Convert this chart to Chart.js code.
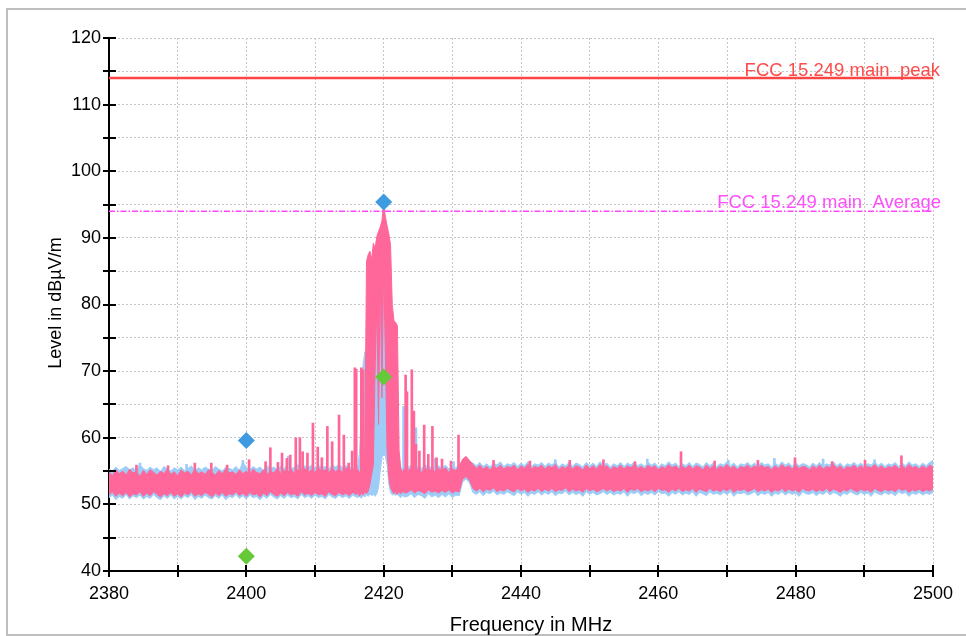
<!DOCTYPE html>
<html lang="en">
<head>
<meta charset="UTF-8">
<title>FCC 15.249 scan</title>
<script src="https://cdn.jsdelivr.net/npm/chart.js"></script>
<style>
  html, body { margin: 0; padding: 0; background: #fff; }
  #wrap { width: 966px; height: 636px; position: relative; }
</style>
</head>
<body>
<div id="wrap"><canvas id="scan"></canvas></div>
<script>
// sample frequencies (MHz) of the trace envelopes
const freqs = [
  2380,2380.5,2381,2381.5,2382,2382.5,2383,2383.5,2384,2384.5,
  2385,2385.5,2386,2386.5,2387,2387.5,2388,2388.5,2389,2389.5,
  2390,2390.5,2391,2391.5,2392,2392.5,2393,2393.5,2394,2394.5,
  2395,2395.5,2396,2396.5,2397,2397.5,2398,2398.5,2399,2399.5,
  2400,2400.5,2401,2401.5,2402,2402.5,2403,2403.5,2404,2404.5,
  2405,2405.5,2406,2406.5,2407,2407.5,2408,2408.5,2409,2409.5,
  2410,2410.5,2411,2411.5,2412,2412.5,2413,2413.5,2414,2414.5,
  2415,2415.5,2416,
  2416.25,2416.5,2416.75,2417,2417.25,2417.5,2417.75,2418,2418.25,2418.5,
  2418.75,2419,2419.25,2419.5,2419.75,2420,2420.25,2420.5,2420.75,2421,
  2421.25,2421.5,2421.75,2422,2422.25,2422.5,2422.75,2423,
  2423.5,2424,2424.5,2425,2425.5,2426,2426.5,2427,2427.5,2428,
  2428.5,2429,2429.5,2430,2430.5,2431,2431.5,2432,2432.5,2433,
  2433.5,2434,2434.5,2435,2435.5,2436,2436.5,2437,2437.5,2438,
  2438.5,2439,2439.5,2440,2440.5,2441,2441.5,2442,2442.5,2443,
  2443.5,2444,2444.5,2445,2445.5,2446,2446.5,2447,2447.5,2448,
  2448.5,2449,2449.5,2450,2450.5,2451,2451.5,2452,2452.5,2453,
  2453.5,2454,2454.5,2455,2455.5,2456,2456.5,2457,2457.5,2458,
  2458.5,2459,2459.5,2460,2460.5,2461,2461.5,2462,2462.5,2463,
  2463.5,2464,2464.5,2465,2465.5,2466,2466.5,2467,2467.5,2468,
  2468.5,2469,2469.5,2470,2470.5,2471,2471.5,2472,2472.5,2473,
  2473.5,2474,2474.5,2475,2475.5,2476,2476.5,2477,2477.5,2478,
  2478.5,2479,2479.5,2480,2480.5,2481,2481.5,2482,2482.5,2483,
  2483.5,2484,2484.5,2485,2485.5,2486,2486.5,2487,2487.5,2488,
  2488.5,2489,2489.5,2490,2490.5,2491,2491.5,2492,2492.5,2493,
  2493.5,2494,2494.5,2495,2495.5,2496,2496.5,2497,2497.5,2498,
  2498.5,2499,2499.5,2500
];

// pink trace (peak detector) - top and bottom of the noise band, dBµV/m
const pinkUpper = [
  54.9,54.3,55.2,54.6,55.0,54.4,55.3,54.7,54.9,54.2,
  55.1,54.5,55.2,54.8,54.4,55.0,54.6,55.3,54.5,54.9,
  54.3,55.2,54.7,55.0,54.4,55.3,54.6,54.9,54.5,55.2,
  54.8,54.4,55.1,54.6,55.3,54.7,54.9,54.5,55.2,54.6,
  55.0,54.4,55.3,54.8,54.6,55.2,54.5,55.0,54.7,55.4,
  54.6,55.1,54.8,55.3,54.6,55.2,54.9,55.4,54.7,55.2,
  54.8,55.5,54.9,55.2,54.7,55.4,54.9,55.3,54.8,55.5,
  55.0,55.3,54.9,
  55.2,54.7,55.4,55.0,58.0,86.5,87.5,88.0,86.8,89.2,
  88.4,90.2,91.0,91.6,92.6,95.0,93.2,91.8,90.6,89.0,
  80.0,77.6,77.3,76.8,58.0,55.3,54.8,55.4,
  55.0,55.4,54.9,55.3,54.8,55.5,55.0,55.3,54.9,55.4,
  55.0,55.5,54.8,55.3,55.1,55.6,56.8,57.2,56.6,56.0,
  55.4,55.9,55.3,55.7,55.2,55.8,55.4,55.9,55.3,55.7,
  55.5,55.9,55.2,55.8,55.4,56.0,55.3,55.7,55.5,55.9,
  55.3,55.8,55.5,56.0,55.2,55.7,55.4,55.9,55.3,55.8,
  55.6,55.2,55.9,55.4,55.8,55.3,56.0,55.5,55.8,55.2,
  55.7,55.4,55.9,55.3,55.8,55.5,56.0,55.4,55.7,55.3,
  55.9,55.5,55.8,55.2,55.7,55.4,56.0,55.5,55.8,55.3,
  55.7,55.4,55.9,55.3,55.8,55.6,55.2,55.9,55.4,55.8,
  55.3,55.7,55.5,56.0,55.4,55.8,55.2,55.7,55.5,55.9,
  55.4,55.8,55.3,55.9,55.5,55.7,55.2,55.8,55.4,56.0,
  55.5,55.8,55.3,55.9,55.4,55.7,55.6,55.2,55.8,55.4,
  55.9,55.3,55.7,55.5,56.0,55.4,55.8,55.2,55.7,55.5,
  55.9,55.4,55.8,55.3,55.7,55.5,56.0,55.4,55.8,55.3,
  55.7,55.5,55.9,55.3,55.8,55.4,56.0,55.5,55.7,55.3,
  55.8,55.4,55.9,55.6
];
const pinkLower = [
  51.4,51.9,51.2,51.7,51.3,51.8,51.1,51.6,51.4,51.9,
  51.2,51.7,51.3,51.9,51.5,51.1,51.6,51.3,51.8,51.2,
  51.6,51.1,51.7,51.4,51.9,51.2,51.6,51.3,51.8,51.5,
  51.1,51.7,51.3,51.8,51.2,51.6,51.4,51.9,51.3,51.7,
  51.2,51.8,51.4,51.6,51.1,51.7,51.3,51.9,51.5,51.2,
  51.7,51.3,51.8,51.4,51.6,51.2,51.9,51.4,51.7,51.3,
  51.8,51.4,51.6,51.2,51.9,51.5,51.3,51.8,51.4,51.7,
  51.3,51.8,51.5,
  51.7,51.2,51.8,51.4,51.9,51.6,52.0,53.0,54.5,56.0,
  70.0,80.0,62.0,84.0,66.0,86.0,72.0,58.0,54.0,52.5,
  52.0,51.6,51.9,51.5,51.9,51.6,52.0,51.7,
  51.8,52.2,51.7,52.1,51.9,51.6,52.2,51.8,52.0,51.7,
  52.1,51.8,52.2,51.7,52.0,51.9,53.8,54.2,53.6,52.4,
  52.0,52.4,51.9,52.3,52.1,52.5,51.9,52.2,52.0,52.4,
  52.1,51.9,52.4,52.0,52.3,51.8,52.2,52.0,52.4,51.9,
  52.3,52.0,52.4,51.9,52.2,52.1,52.5,51.9,52.3,52.0,
  52.2,51.8,52.4,52.0,52.3,51.9,52.1,52.4,52.0,52.3,
  51.9,52.2,52.0,52.4,51.8,52.3,52.1,52.4,51.9,52.2,
  52.0,52.3,51.9,52.4,52.1,52.2,51.8,52.3,52.0,52.4,
  51.9,52.2,52.0,52.4,51.8,52.3,52.1,51.9,52.4,52.0,
  52.2,51.9,52.3,52.0,52.4,51.8,52.2,52.1,52.3,51.9,
  52.1,52.4,51.9,52.2,52.0,52.3,51.8,52.2,52.0,52.4,
  51.9,52.3,52.0,52.2,51.8,52.4,52.1,52.0,52.3,51.9,
  52.2,52.0,52.4,51.9,52.3,52.1,51.8,52.2,52.0,52.4,
  52.1,51.9,52.3,52.0,52.2,51.8,52.4,52.1,51.9,52.3,
  52.0,52.2,51.9,52.4,52.1,52.3,51.8,52.2,52.0,52.3,
  51.9,52.2,52.0,52.3
];

// light blue trace - top and bottom of the noise band
const blueUpper = [
  55.3,55.0,55.6,55.1,55.4,55.7,55.2,55.5,55.0,56.0,
  55.4,55.1,55.6,55.2,55.5,54.9,55.7,55.3,55.0,55.5,
  55.2,55.6,55.1,55.4,55.8,55.0,55.5,55.2,55.6,55.3,
  55.1,55.7,55.3,55.0,55.6,55.4,55.2,55.7,55.1,56.4,
  55.5,55.2,55.7,55.3,55.6,55.1,55.8,55.4,55.6,55.2,
  55.7,55.4,55.9,55.3,55.6,56.0,55.4,55.8,55.5,55.9,
  55.4,55.8,55.5,55.7,55.3,55.9,55.6,56.0,55.5,55.8,
  55.6,55.3,55.8,
  55.6,58.0,64.0,71.0,72.9,72.4,76.0,80.5,84.0,85.6,
  86.4,86.7,86.1,86.6,85.9,86.4,85.6,84.2,83.2,81.5,
  77.0,75.2,71.0,62.0,56.0,55.6,55.2,55.8,
  55.5,55.9,55.3,55.8,55.4,56.0,55.5,55.7,55.3,55.8,
  55.4,55.9,55.3,55.7,55.5,56.0,56.6,57.0,56.4,56.2,
  55.8,56.3,55.7,56.1,55.6,56.2,55.9,56.4,55.7,56.1,
  55.9,56.3,55.7,56.2,55.8,56.4,55.7,56.1,55.9,56.3,
  55.7,56.2,55.9,56.4,55.6,56.1,55.8,56.3,55.7,56.2,
  56.0,55.6,56.3,55.8,56.2,55.7,56.4,55.9,56.2,55.6,
  56.1,55.8,56.3,55.7,56.2,55.9,56.4,55.8,56.1,55.7,
  56.3,55.9,56.2,55.6,56.1,55.8,56.4,55.9,56.2,55.7,
  56.1,55.8,56.3,55.7,56.2,56.0,55.6,56.3,55.8,56.2,
  55.7,56.1,55.9,56.4,55.8,56.2,55.6,56.1,55.9,56.3,
  55.8,56.2,55.7,56.3,55.9,56.1,55.6,56.2,55.8,56.4,
  55.9,56.2,55.7,56.3,55.8,56.1,56.0,55.6,56.2,55.8,
  56.3,55.7,56.1,55.9,56.4,55.8,56.2,55.6,56.1,55.9,
  56.3,55.8,56.2,55.7,56.1,55.9,56.4,55.8,56.2,55.7,
  56.1,55.9,56.3,55.7,56.2,55.8,56.4,55.9,56.1,55.7,
  56.2,55.8,56.3,56.5
];
const blueLower = [
  51.0,51.4,50.7,51.2,50.9,51.5,50.8,51.3,51.0,51.4,
  50.8,51.2,50.9,51.5,51.0,50.7,51.3,50.9,51.4,50.8,
  51.2,50.8,51.3,51.0,51.5,50.7,51.2,50.9,51.4,51.0,
  50.8,51.3,50.9,51.4,50.7,51.2,51.0,51.5,50.9,51.3,
  50.8,51.4,51.0,51.2,50.7,51.3,50.9,51.5,51.1,50.8,
  51.3,50.9,51.4,51.0,51.2,50.8,51.5,51.0,51.3,50.9,
  51.4,51.0,51.2,50.8,51.5,51.1,50.9,51.4,51.0,51.3,
  50.9,51.4,51.1,
  51.0,51.3,50.9,51.4,51.1,51.5,51.2,51.6,51.3,51.5,
  51.2,51.6,52.5,55.0,57.0,57.5,57.2,56.0,53.0,51.8,
  51.4,51.6,51.3,51.6,51.2,51.0,51.4,51.1,
  51.2,51.6,51.0,51.5,51.3,50.9,51.6,51.1,51.4,51.0,
  51.5,51.1,51.6,51.0,51.4,51.3,53.4,53.8,53.2,51.8,
  51.5,51.9,51.3,51.8,51.6,52.0,51.4,51.7,51.5,51.9,
  51.6,51.3,51.9,51.5,51.8,51.2,51.7,51.5,51.9,51.4,
  51.8,51.5,51.9,51.3,51.7,51.6,52.0,51.4,51.8,51.5,
  51.7,51.2,51.9,51.5,51.8,51.4,51.6,51.9,51.5,51.8,
  51.4,51.7,51.5,51.9,51.2,51.8,51.6,51.9,51.3,51.7,
  51.5,51.8,51.4,51.9,51.6,51.7,51.2,51.8,51.5,51.9,
  51.4,51.7,51.5,51.9,51.2,51.8,51.6,51.3,51.9,51.5,
  51.7,51.4,51.8,51.5,51.9,51.2,51.7,51.6,51.8,51.4,
  51.6,51.9,51.3,51.7,51.5,51.8,51.2,51.7,51.5,51.9,
  51.4,51.8,51.5,51.7,51.2,51.9,51.6,51.5,51.8,51.3,
  51.7,51.5,51.9,51.4,51.8,51.6,51.2,51.7,51.5,51.9,
  51.6,51.4,51.8,51.5,51.7,51.2,51.9,51.6,51.4,51.8,
  51.5,51.7,51.3,51.9,51.6,51.8,51.2,51.7,51.5,51.8,
  51.4,51.7,51.5,51.8
];

// narrow spurs standing out of the noise band
const pinkSpikeFreq = [2384.0, 2388.6, 2392.5, 2394.9, 2397.2, 2400.4, 2402.8, 2403.5, 2404.6, 2405.2,
  2405.9, 2406.4, 2407.2, 2407.8, 2408.2, 2408.9, 2409.7, 2410.4, 2411.0, 2411.8,
  2412.5, 2413.5, 2414.2, 2414.9, 2415.4, 2415.8, 2416.0, 2416.75, 2417.0, 2423.2,
  2423.4, 2424.1, 2424.4, 2424.7, 2425.2, 2425.9, 2426.5, 2427.1, 2427.7, 2428.5,
  2429.8, 2430.9, 2436.0, 2441.3, 2447.1, 2452.0, 2456.6, 2463.3, 2468.2, 2474.5,
  2479.9, 2485.3, 2490.1, 2495.4];
const pinkSpikeTop = [55.9, 55.8, 56.2, 56.2, 55.9, 56.7, 56.4, 58.5, 56.3, 57.7,
  56.9, 57.4, 60.0, 60.0, 57.9, 57.7, 62.2, 58.6, 57.0, 61.7,
  59.4, 63.4, 60.4, 56.2, 58.0, 70.5, 70.3, 70.5, 70.2, 69.4,
  66.9, 70.2, 64.0, 59.0, 58.0, 61.9, 57.5, 61.7, 57.0, 56.8,
  56.5, 60.4, 56.6, 56.5, 56.6, 56.7, 56.4, 57.9, 56.5, 56.6,
  57.0, 56.4, 56.6, 57.3];
const blueSpikeFreq = [2384.5, 2391.3, 2399.5, 2406.1, 2422.9, 2424.7, 2427.5, 2430.2, 2445.0, 2458.4,
  2470.2, 2476.9, 2484.0, 2491.5, 2500.0];
const blueSpikeTop = [56.2, 56.0, 56.6, 57.2, 64.7, 61.5, 56.9, 56.4, 56.7, 56.8,
  56.6, 56.9, 56.8, 56.7, 56.6];
const spikeBase = 53;

// final measurement markers
const markerFreq = [2400, 2420];
const peakMarker = [59.6, 95.4];
const avgMarker = [42.2, 69.1];

// limit lines
const limitPeak = 114;
const limitAvg = 94;
const limitPeakLabel = 'FCC 15.249 main  peak';
const limitAvgLabel = 'FCC 15.249 main  Average';

const FONT = '"Liberation Sans", Arial, Helvetica, sans-serif';
const PINK = '#ff6699';
const BLUE = '#9dcdf7';

const pts = vals => freqs.map((f, i) => ({ x: f, y: vals[i] }));
const spikes = (fs, tops) => fs.map((f, i) => ({ x: f, y: [spikeBase, tops[i]] }));
const limit = v => [{ x: 2380, y: v }, { x: 2500, y: v }];

function bandLine(label, data, color, order, fill) {
  return {
    type: 'line', label, data, order, fill,
    borderColor: color, backgroundColor: color,
    borderWidth: 1, pointRadius: 0, tension: 0
  };
}

// frame, crossing tick marks, axis titles and limit labels
const decorations = {
  id: 'decorations',
  beforeDraw(chart) {
    const c = chart.ctx;
    c.save();
    c.strokeStyle = '#bdbdbd';
    c.lineWidth = 2;
    c.beginPath();
    c.moveTo(966, 9); c.lineTo(7, 9); c.lineTo(7, 635); c.lineTo(966, 635);
    c.stroke();
    c.restore();
  },
  afterDraw(chart) {
    const c = chart.ctx;
    const xs = chart.scales.x, ys = chart.scales.y;
    const a = chart.chartArea;
    c.save();
    c.strokeStyle = '#000';
    c.lineWidth = 2;
    c.beginPath();
    ys.ticks.forEach(t => {
      const py = Math.round(ys.getPixelForValue(t.value));
      c.moveTo(a.left - 6, py); c.lineTo(a.left + 7, py);
    });
    xs.ticks.forEach(t => {
      const px = Math.round(xs.getPixelForValue(t.value));
      c.moveTo(px, a.bottom - 6); c.lineTo(px, a.bottom + 6);
    });
    c.stroke();

    c.fillStyle = '#000';
    c.font = '20px ' + FONT;
    c.textAlign = 'center';
    c.textBaseline = 'alphabetic';
    c.fillText('Frequency in MHz', 531, 631);

    c.save();
    c.translate(61, 303);
    c.rotate(-Math.PI / 2);
    c.font = '18px ' + FONT;
    c.fillText('Level in dBµV/m', 0, 0);
    c.restore();

    c.font = '18.5px ' + FONT;
    c.textAlign = 'right';
    c.fillStyle = '#ff4a4a';
    c.fillText(limitPeakLabel, 940, ys.getPixelForValue(limitPeak) - 2);
    c.fillStyle = '#ff4dff';
    c.fillText(limitAvgLabel, 941, ys.getPixelForValue(limitAvg) - 3);
    c.restore();
  }
};

new Chart(document.getElementById('scan'), {
  type: 'line',
  data: {
    datasets: [
      bandLine('blue low', pts(blueLower), BLUE, 10, false),
      bandLine('blue high', pts(blueUpper), BLUE, 9, '-1'),
      bandLine('pink low', pts(pinkLower), PINK, 7, false),
      bandLine('pink high', pts(pinkUpper), PINK, 6, '-1'),
      {
        type: 'bar', label: 'blue spurs', data: spikes(blueSpikeFreq, blueSpikeTop),
        backgroundColor: BLUE, barThickness: 2, grouped: false, order: 8
      },
      {
        type: 'bar', label: 'pink spurs', data: spikes(pinkSpikeFreq, pinkSpikeTop),
        backgroundColor: PINK, barThickness: 2, grouped: false, order: 5
      },
      {
        type: 'line', label: limitPeakLabel, data: limit(limitPeak), order: 3,
        borderColor: '#ff4444', borderWidth: 2.5, pointRadius: 0, fill: false
      },
      {
        type: 'line', label: limitAvgLabel, data: limit(limitAvg), order: 3,
        borderColor: '#ff44ff', borderWidth: 1.5, borderDash: [6, 2, 1.5, 2], pointRadius: 0, fill: false
      },
      {
        type: 'line', label: 'Peak', order: 1, showLine: false,
        data: markerFreq.map((f, i) => ({ x: f, y: peakMarker[i] })),
        pointStyle: 'rectRot', pointRadius: 8.5, pointBackgroundColor: '#3f9be0', pointBorderWidth: 0
      },
      {
        type: 'line', label: 'Average', order: 1, showLine: false,
        data: markerFreq.map((f, i) => ({ x: f, y: avgMarker[i] })),
        pointStyle: 'rectRot', pointRadius: 8.5, pointBackgroundColor: '#66c93a', pointBorderWidth: 0
      }
    ]
  },
  options: {
    responsive: true,
    maintainAspectRatio: false,
    animation: false,
    layout: { padding: { left: 20, right: 33, top: 38, bottom: 0 } },
    plugins: { legend: { display: false }, tooltip: { enabled: false } },
    scales: {
      x: {
        type: 'linear', min: 2380, max: 2500, offset: false,
        afterFit: s => { s.height = 65; },
        grid: { color: '#c6c6c6', lineWidth: 1, drawTicks: false, offset: false },
        border: { display: true, color: '#000', width: 2, dash: [2, 2] },
        ticks: {
          stepSize: 10, autoSkip: false, maxRotation: 0, padding: 12,
          color: '#000', font: { family: FONT, size: 18 },
          callback: v => (v % 20 === 0 ? v : '')
        }
      },
      y: {
        min: 40, max: 120,
        afterFit: s => { s.width = 89; },
        grid: { color: '#c6c6c6', lineWidth: 1, drawTicks: false },
        border: { display: true, color: '#000', width: 2, dash: [2, 2] },
        ticks: {
          stepSize: 5, autoSkip: false, padding: 8,
          color: '#000', font: { family: FONT, size: 18 },
          callback: v => (v % 10 === 0 ? v : '')
        }
      }
    }
  },
  plugins: [decorations]
});
</script>
</body>
</html>
